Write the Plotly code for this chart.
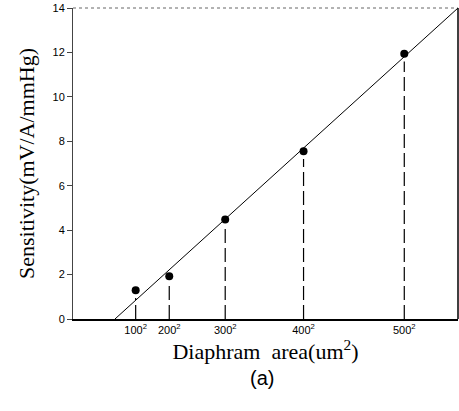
import plotly.graph_objects as go

# Data
area = [10000, 40000, 90000, 160000, 250000]          # um^2 (100^2 ... 500^2)
sensitivity = [1.29, 1.92, 4.48, 7.55, 11.94]         # mV/A/mmHg
tick_labels = ["100<sup>2</sup>", "200<sup>2</sup>", "300<sup>2</sup>",
               "400<sup>2</sup>", "500<sup>2</sup>"]
fit_area = [-8500, 298000]
fit_sens = [0, 14]
y_ticks = [0, 2, 4, 6, 8, 10, 12, 14]

fig = go.Figure()

# dashed drop lines from points to the axis
for a, s in zip(area, sensitivity):
    fig.add_trace(go.Scatter(
        x=[a, a], y=[0, s - 0.35], mode="lines",
        line=dict(color="black", width=1.2, dash="14px,5px"),
        showlegend=False, hoverinfo="skip"))

# fitted line
fig.add_trace(go.Scatter(
    x=fit_area, y=fit_sens, mode="lines",
    line=dict(color="black", width=1), showlegend=False))

# data points
fig.add_trace(go.Scatter(
    x=area, y=sensitivity, mode="markers",
    marker=dict(color="black", size=8), showlegend=False))

fig.update_layout(
    width=459, height=411,
    margin=dict(l=73, r=1, t=8, b=92),
    paper_bgcolor="white", plot_bgcolor="white",
    font=dict(family="Liberation Sans, Arial", color="black", size=11),
    xaxis=dict(
        range=[-46000, 298000], showgrid=False, zeroline=False,
        showline=True, linecolor="black", linewidth=1.5,
        tickvals=area, ticktext=tick_labels, ticks="",
        tickfont=dict(size=11),
        title=dict(text="Diaphram&nbsp;&nbsp;area(um<sup>2</sup>)",
                   font=dict(family="Liberation Serif, Times New Roman", size=22),
                   standoff=5),
    ),
    yaxis=dict(
        range=[0, 14], showgrid=False, zeroline=False,
        showline=True, linecolor="#444", linewidth=1,
        tickvals=y_ticks, ticks="outside", ticklen=5, tickcolor="#444",
        tickfont=dict(size=11),
        title=dict(text="Sensitivity(mV/A/mmHg)",
                   font=dict(family="Liberation Serif, Times New Roman", size=22),
                   standoff=11),
    ),
    shapes=[
        dict(type="line", xref="paper", yref="paper", x0=0, x1=1, y0=1, y1=1,
             line=dict(color="#666", width=1, dash="dot")),
        dict(type="line", xref="paper", yref="paper", x0=1, x1=1, y0=0, y1=1,
             line=dict(color="black", width=1.5)),
    ],
    annotations=[
        dict(text="(a)", xref="paper", yref="paper", x=0.49, y=-0.147,
             xanchor="center", yanchor="top", showarrow=False,
             font=dict(family="Liberation Sans, Arial", size=20)),
    ],
)

fig.write_html("out.html",
               config={"displayModeBar": False},
               post_script="document.body.style.margin='0';document.body.style.overflow='hidden';")
